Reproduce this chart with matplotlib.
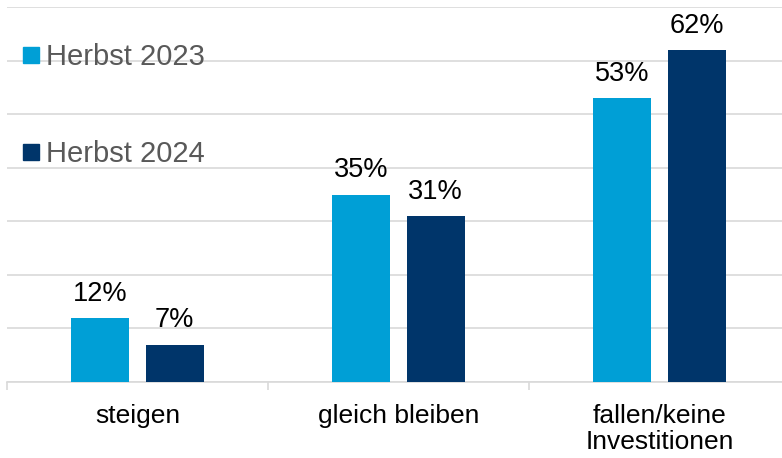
import numpy as np
import matplotlib.pyplot as plt
from matplotlib.lines import Line2D

plt.rcParams['font.family'] = ['Liberation Sans', 'DejaVu Sans']

categories = ['steigen', 'gleich bleiben', 'fallen/keine\nInvestitionen']
series_names = ['Herbst 2023', 'Herbst 2024']
vals_2023 = [12, 35, 53]
vals_2024 = [7, 31, 62]
colors = ['#009FD6', '#00356A']

fig = plt.figure(figsize=(7.82, 4.58), dpi=100)
ax = fig.add_axes([7 / 782, 76 / 458, 783 / 782, 375 / 458])

x = np.arange(len(categories))
w = 0.222
off = 0.142
b1 = ax.bar(x - off, vals_2023, w, color=colors[0], zorder=3)
b2 = ax.bar(x + off, vals_2024, w, color=colors[1], zorder=3)

for bars, vals in [(b1, vals_2023), (b2, vals_2024)]:
    for rect, v in zip(bars, vals):
        ax.annotate(f'{v}%', (rect.get_x() + rect.get_width() / 2, v),
                    xytext=(0, 8), textcoords='offset points',
                    ha='center', va='bottom', fontsize=19.5, color='black')

ax.set_xlim(-0.5, 2.5)
ax.set_ylim(0, 70)
ax.set_yticks(np.arange(0, 71, 10))
ax.yaxis.grid(True, color='#d9d9d9', linewidth=1.2, zorder=0)
ax.tick_params(axis='y', left=False, labelleft=False)

ax.set_xticks(x)
ax.set_xticklabels(categories, fontsize=19, color='black', linespacing=1.1)
ax.set_xticks(np.arange(-0.5, 3, 1), minor=True)
ax.tick_params(axis='x', which='major', length=0, pad=16)
ax.tick_params(axis='x', which='minor', length=6, width=1.2, color='#d9d9d9')

for s in ['top', 'right', 'left']:
    ax.spines[s].set_visible(False)
ax.spines['bottom'].set_color('#d9d9d9')
ax.spines['bottom'].set_linewidth(1.2)

handles = [Line2D([], [], marker='s', linestyle='none', markersize=11,
                  color=c) for c in colors]
leg = ax.legend(handles, series_names, loc='upper left',
                bbox_to_anchor=(0.02, 0.903), frameon=False,
                fontsize=21, handlelength=0.6, handletextpad=0.2,
                labelspacing=2.35, borderpad=0, borderaxespad=0)
for t in leg.get_texts():
    t.set_color('#595959')

fig.savefig('out.png', dpi=100)
